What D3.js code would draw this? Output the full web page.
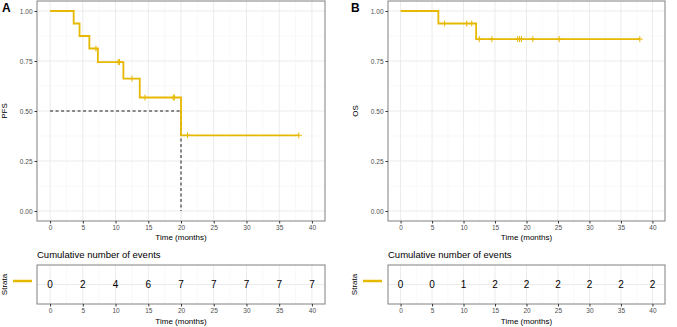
<!DOCTYPE html>
<html>
<head>
<meta charset="utf-8">
<script src="https://cdn.jsdelivr.net/npm/d3@7"></script>
<style>
  body { margin: 0; background: #fff; }
  svg { font-family: "Liberation Sans", Arial, sans-serif; }
</style>
</head>
<body>
<script>
// PFS curve (panel A)
const pfsStepTimes = [0, 3.6, 4.5, 6.0, 7.3, 11.2, 13.7, 20.0]
const pfsStepSurv  = [1.0, 0.9375, 0.875, 0.8125, 0.7448, 0.6620, 0.5675, 0.3783]
const pfsEnd = 38
const pfsCensor = [7.0, 10.4, 10.6, 12.5, 14.5, 18.8, 19.0, 21.0, 38.0]
const pfsEvents = [0, 2, 4, 6, 7, 7, 7, 7, 7]
const pfsMedian = 20

// OS curve (panel B)
const osStepTimes = [0, 6.0, 12.0]
const osStepSurv  = [1.0, 0.9375, 0.8594]
const osEnd = 38
const osCensor = [7.0, 10.5, 11.3, 12.5, 14.5, 18.6, 18.9, 19.2, 21.0, 25.2, 38.0]
const osEvents = [0, 0, 1, 2, 2, 2, 2, 2, 2]

const tableTimes = [0, 5, 10, 15, 20, 25, 30, 35, 40]
const yTicks = [0, 0.25, 0.5, 0.75, 1.0]

const COL = "#E7B800"
const W = 677, H = 327

const svg = d3.select("body").append("svg")
    .attr("width", W).attr("height", H)

function panel(opts){
    const g = svg.append("g")
    const left = opts.left, right = opts.right
    const top = 1, bottom = 221

    const X = d3.scaleLinear().domain([-2, 42]).range([left, right])
    const Y = d3.scaleLinear().domain([-0.05, 1.05]).range([bottom, top])

    // grid
    const minorX = d3.range(-2.5, 45, 5).filter(d => d > -2 && d < 42)
    const minorY = [0.125, 0.375, 0.625, 0.875]
    g.selectAll(".gminx").data(minorX).enter().append("line")
        .attr("x1", d => X(d)).attr("x2", d => X(d))
        .attr("y1", top).attr("y2", bottom)
        .attr("stroke", "#f2f2f2").attr("stroke-width", 0.5)
    g.selectAll(".gminy").data(minorY).enter().append("line")
        .attr("x1", left).attr("x2", right)
        .attr("y1", d => Y(d)).attr("y2", d => Y(d))
        .attr("stroke", "#f2f2f2").attr("stroke-width", 0.5)
    g.selectAll(".gx").data(tableTimes).enter().append("line")
        .attr("x1", d => X(d)).attr("x2", d => X(d))
        .attr("y1", top).attr("y2", bottom)
        .attr("stroke", "#ebebeb").attr("stroke-width", 1)
    g.selectAll(".gy").data(yTicks).enter().append("line")
        .attr("x1", left).attr("x2", right)
        .attr("y1", d => Y(d)).attr("y2", d => Y(d))
        .attr("stroke", "#ebebeb").attr("stroke-width", 1)

    // median lines
    if(opts.median != null){
        g.append("line")
            .attr("x1", X(0)).attr("x2", X(opts.median))
            .attr("y1", Y(0.5)).attr("y2", Y(0.5))
            .attr("stroke", "#000").attr("stroke-width", 0.9)
            .attr("stroke-dasharray", "3,2.5")
        g.append("line")
            .attr("x1", X(opts.median)).attr("x2", X(opts.median))
            .attr("y1", Y(0.5)).attr("y2", Y(0))
            .attr("stroke", "#000").attr("stroke-width", 0.9)
            .attr("stroke-dasharray", "3,2.5")
    }

    // step curve
    const pts = opts.times.map((t, i) => [t, opts.surv[i]])
    pts.push([opts.end, opts.surv[opts.surv.length - 1]])
    const line = d3.line().x(d => X(d[0])).y(d => Y(d[1])).curve(d3.curveStepAfter)
    g.append("path").datum(pts)
        .attr("d", line)
        .attr("fill", "none").attr("stroke", COL).attr("stroke-width", 1.8)

    // censor marks
    const survAt = t => {
        let s = opts.surv[0]
        opts.times.forEach((tt, i) => { if(tt <= t) s = opts.surv[i] })
        return s
    }
    opts.censor.forEach(t => {
        const cx = X(t), cy = Y(survAt(t))
        g.append("line").attr("x1", cx - 3).attr("x2", cx + 3).attr("y1", cy).attr("y2", cy)
            .attr("stroke", COL).attr("stroke-width", 1)
        g.append("line").attr("x1", cx).attr("x2", cx).attr("y1", cy - 3).attr("y2", cy + 3)
            .attr("stroke", COL).attr("stroke-width", 1)
    })

    // border
    g.append("rect").attr("x", left).attr("y", top)
        .attr("width", right - left).attr("height", bottom - top)
        .attr("fill", "none").attr("stroke", "#808080").attr("stroke-width", 1)

    // axes
    const xAxis = g.append("g").attr("transform", `translate(0,${bottom})`)
        .call(d3.axisBottom(X).tickValues(tableTimes).tickSize(2.5).tickPadding(2))
    const yAxis = g.append("g").attr("transform", `translate(${left},0)`)
        .call(d3.axisLeft(Y).tickValues(yTicks).tickFormat(d3.format(".2f")).tickSize(2.5).tickPadding(2))
    ;[xAxis, yAxis].forEach(a => {
        a.select(".domain").remove()
        a.selectAll("line").attr("stroke", "#333")
        a.selectAll("text").attr("fill", "#4d4d4d").style("font-size", "6.5px")
    })

    g.append("text").attr("x", (left + right) / 2).attr("y", 240)
        .attr("text-anchor", "middle").style("font-size", "8px").attr("fill", "#000")
        .text("Time (months)")
    g.append("text")
        .attr("transform", `translate(${opts.ylabX},${(top + bottom) / 2}) rotate(-90)`)
        .attr("text-anchor", "middle").style("font-size", "8px").attr("fill", "#000")
        .text(opts.ylab)
    g.append("text").attr("x", opts.tagX).attr("y", 12)
        .style("font-size", "12px").style("font-weight", "bold").attr("fill", "#000")
        .text(opts.tag)

    // risk table
    const tTop = 265, tBot = 304
    g.append("text").attr("x", left).attr("y", 258)
        .style("font-size", "9.5px").attr("fill", "#000")
        .text("Cumulative number of events")
    g.selectAll(".tgx").data(tableTimes).enter().append("line")
        .attr("x1", d => X(d)).attr("x2", d => X(d))
        .attr("y1", tTop).attr("y2", tBot)
        .attr("stroke", "#ebebeb").attr("stroke-width", 1)
    g.selectAll(".tgm").data(minorX).enter().append("line")
        .attr("x1", d => X(d)).attr("x2", d => X(d))
        .attr("y1", tTop).attr("y2", tBot)
        .attr("stroke", "#f2f2f2").attr("stroke-width", 0.5)
    g.append("line").attr("x1", left).attr("x2", right)
        .attr("y1", (tTop + tBot) / 2).attr("y2", (tTop + tBot) / 2)
        .attr("stroke", "#ebebeb").attr("stroke-width", 1)
    g.append("rect").attr("x", left).attr("y", tTop)
        .attr("width", right - left).attr("height", tBot - tTop)
        .attr("fill", "none").attr("stroke", "#808080").attr("stroke-width", 1)
    g.selectAll(".num").data(opts.events).enter().append("text")
        .attr("x", (d, i) => X(tableTimes[i])).attr("y", (tTop + tBot) / 2 + 3.5)
        .attr("text-anchor", "middle").style("font-size", "10px").attr("fill", "#000")
        .text(d => d)
    const tAxis = g.append("g").attr("transform", `translate(0,${tBot})`)
        .call(d3.axisBottom(X).tickValues(tableTimes).tickSize(2.5).tickPadding(2))
    tAxis.select(".domain").remove()
    tAxis.selectAll("line").attr("stroke", "#333")
    tAxis.selectAll("text").attr("fill", "#4d4d4d").style("font-size", "6.5px")
    g.append("text").attr("x", (left + right) / 2).attr("y", 324)
        .attr("text-anchor", "middle").style("font-size", "8px").attr("fill", "#000")
        .text("Time (months)")
    g.append("text")
        .attr("transform", `translate(${opts.strataX},${(tTop + tBot) / 2}) rotate(-90)`)
        .attr("text-anchor", "middle").style("font-size", "8px").attr("fill", "#000")
        .text("Strata")
    g.append("line").attr("x1", opts.legX[0]).attr("x2", opts.legX[1])
        .attr("y1", 281).attr("y2", 281)
        .attr("stroke", COL).attr("stroke-width", 2.5)
}

panel({left: 37, right: 325, times: pfsStepTimes, surv: pfsStepSurv, end: pfsEnd,
       censor: pfsCensor, events: pfsEvents, median: pfsMedian, ylab: "PFS", tag: "A", tagX: 2,
       ylabX: 7, strataX: 7, legX: [13, 32]})
panel({left: 388, right: 665, times: osStepTimes, surv: osStepSurv, end: osEnd,
       censor: osCensor, events: osEvents, median: null, ylab: "OS", tag: "B", tagX: 351,
       ylabX: 358, strataX: 357, legX: [363, 382]})
</script>
</body>
</html>
